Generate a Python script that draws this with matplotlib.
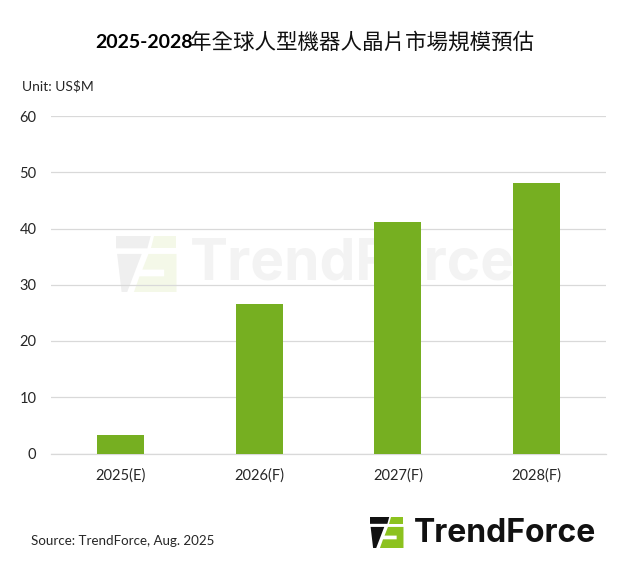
import matplotlib
matplotlib.use("Agg")
import matplotlib.pyplot as plt
from matplotlib.patches import Polygon

categories = ["2025(E)", "2026(F)", "2027(F)", "2028(F)"]
values = [3.3, 26.6, 41.2, 48.1]
yticks = [0, 10, 20, 30, 40, 50, 60]

GREEN = "#76AF21"
W, H = 630, 568

plt.rcParams["font.family"] = ["Lato", "Noto Sans CJK TC", "DejaVu Sans"]


def fx(px):
    return px / W


def fy(py):
    return 1 - py / H


def draw_logo(fig, x, y, s, dark, light, zorder=1):
    # logo mark, x/y is the top left corner in pixels, s is the mark height
    top = [(0, 0), (0.62, 0), (0.56, 0.22), (0, 0.22)]
    stem = [(0.02, 0.32), (0.46, 0.32), (0.20, 1.0), (0.10, 1.0)]
    g1 = [(0.68, 0), (1.08, 0), (1.08, 0.22), (0.62, 0.22)]
    g2 = [(0.58, 0.32), (1.08, 0.32), (1.08, 1.0), (0.32, 1.0), (0.42, 0.72),
          (0.86, 0.72), (0.86, 0.60), (0.47, 0.60)]
    for pts, col in [(top, dark), (stem, dark), (g1, light), (g2, light)]:
        fig.add_artist(Polygon([(fx(x + a * s), fy(y + b * s)) for a, b in pts],
                               closed=True, transform=fig.transFigure,
                               facecolor=col, edgecolor="none", zorder=zorder))


fig = plt.figure(figsize=(W / 100, H / 100), dpi=100, facecolor="white")
ax = fig.add_axes([fx(51), fy(453.5), fx(606) - fx(51), (453.5 - 116) / H])
ax.patch.set_alpha(0)
ax.set_zorder(5)

# watermark goes behind the axes
draw_logo(fig, 116, 236, 56, "#EFEFEF", "#F4F8E8", zorder=0)
fig.text(fx(190), fy(264), "TrendForce", fontsize=41, fontweight="bold",
         color="#F3F3F3", ha="left", va="center", family="Inter", zorder=0)

x = range(len(categories))
ax.bar(x, values, width=0.34, color=GREEN, zorder=3)
ax.set_xlim(-0.5, 3.5)
ax.set_ylim(0, 60)
ax.set_yticks(yticks)
ax.set_xticks(list(x))
ax.set_xticklabels(categories)
ax.grid(axis="y", color="#D9D9D9", linewidth=0.9, zorder=1)
ax.set_axisbelow(True)
ax.tick_params(length=0, labelsize=10.5, labelcolor="#262626")
ax.tick_params(axis="x", pad=11)
ax.tick_params(axis="y", pad=10.5)
for side in ["top", "left", "right"]:
    ax.spines[side].set_visible(False)
ax.spines["bottom"].set_color("#D9D9D9")
ax.spines["bottom"].set_linewidth(0.9)

fig.text(fx(95), fy(43), "2025-2028", fontsize=14, fontweight="bold",
         color="black", ha="left", va="center")
fig.text(fx(190), fy(43), "年全球人型機器人晶片市場規模預估", fontsize=15.5,
         color="#111111", ha="left", va="center", family="Noto Sans CJK TC")
fig.text(fx(22), fy(86), "Unit: US$M", fontsize=10, color="#262626",
         ha="left", va="center")
fig.text(fx(31), fy(541), "Source: TrendForce, Aug. 2025", fontsize=9.6,
         color="#262626", ha="left", va="center")

draw_logo(fig, 370, 517, 31, "#111111", "#8CC21F", zorder=2)
fig.text(fx(414), fy(533), "TrendForce", fontsize=23, fontweight="bold",
         color="#111111", ha="left", va="center", family="Inter")

fig.savefig("out.png", dpi=100)
